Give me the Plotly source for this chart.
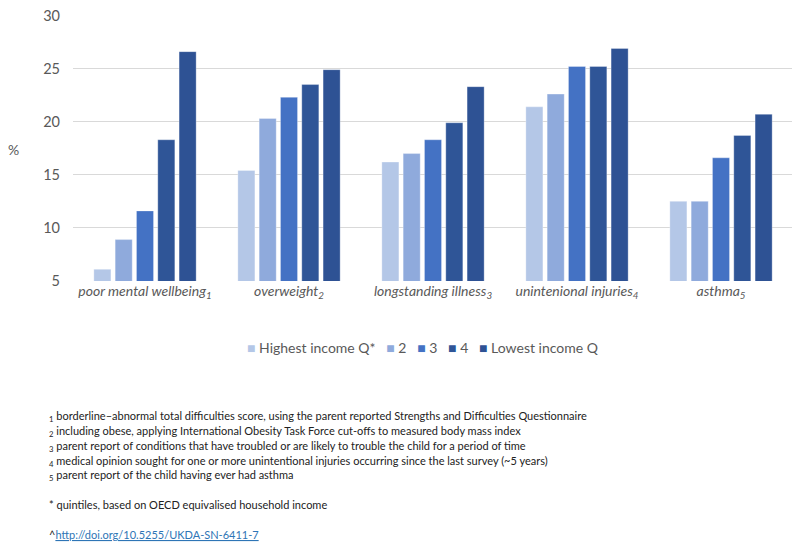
import plotly.graph_objects as go

categories = [
    "poor mental wellbeing<sub>1</sub>",
    "overweight<sub>2</sub>",
    "longstanding illness<sub>3</sub>",
    "unintenional injuries<sub>4</sub>",
    "asthma<sub>5</sub>",
]
series_names = ["Highest income Q*", "2", "3", "4", "Lowest income Q"]
q1 = [6.1, 15.4, 16.2, 21.4, 12.5]
q2 = [8.9, 20.3, 17.0, 22.6, 12.5]
q3 = [11.6, 22.3, 18.3, 25.2, 16.6]
q4 = [18.3, 23.5, 19.9, 25.2, 18.7]
q5 = [26.6, 24.9, 23.3, 26.9, 20.7]
series_values = [q1, q2, q3, q4, q5]
colors = ["#B4C7E7", "#8FAADC", "#4472C4", "#2F5597", "#2E5294"]
y_ticks = [5, 10, 15, 20, 25, 30]

footnotes = [
    "<sub>1</sub> borderline–abnormal total difficulties score, using the parent reported Strengths and Difficulties Questionnaire",
    "<sub>2</sub> including obese, applying International Obesity Task Force cut-offs to measured body mass index",
    "<sub>3</sub> parent report of conditions that have troubled or are likely to trouble the child for a period of time",
    "<sub>4</sub> medical opinion sought for one or more unintentional injuries occurring since the last survey (~5 years)",
    "<sub>5</sub> parent report of the child having ever had asthma",
    "* quintiles, based on OECD equivalised household income",
]
footnote_y = [416, 431.5, 446, 461, 475.5, 504.5]
link_text = "^<span style='color:#2E75B6'><u>http://doi.org/10.5255/UKDA-SN-6411-7</u></span>"

fig = go.Figure()
for name, vals, c in zip(series_names, series_values, colors):
    fig.add_trace(go.Bar(
        x=categories, y=vals, name=name,
        marker=dict(color=c, line=dict(color="rgba(255,255,255,0.6)", width=0.5)),
    ))

# page body has an 8px default margin; figure is offset by it
OX, OY = 8, 8
W, H = 800 - OX, 549 - OY
# plot area in screen pixels: x 73..793, y 15..281
ml, mr, mt, mb = 73 - OX, 800 - 793, 15 - OY, 549 - 281
ph = H - mt - mb
pw = W - ml - mr

def py(pix):
    return (549 - mb - pix) / ph

def px(pix):
    return (pix - 73) / pw

annotations = [
    dict(text="%", x=px(13), y=py(149), xref="paper", yref="paper", showarrow=False,
         xanchor="center", yanchor="middle", font=dict(size=14, color="#595959")),
]
ffont = dict(family="Lato, Noto Sans, sans-serif", size=11, color="#222222")
for t, yy in zip(footnotes, footnote_y):
    annotations.append(dict(text=t, x=px(47), y=py(yy), xref="paper", yref="paper",
                            showarrow=False, xanchor="left", yanchor="middle", font=ffont))
annotations.append(dict(text=link_text, x=px(47), y=py(534.5), xref="paper", yref="paper",
                        showarrow=False, xanchor="left", yanchor="middle", font=ffont))

# custom compact legend
legend_parts = []
for name, c in zip(series_names, colors):
    legend_parts.append(f"<span style='color:{c}'>■</span> {name}")
legend_text = "&nbsp;&nbsp;&nbsp;".join(legend_parts)
annotations.append(dict(text=legend_text, x=px(423), y=py(347), xref="paper", yref="paper",
                        showarrow=False, xanchor="center", yanchor="middle",
                        font=dict(size=14, color="#595959")))

fig.update_layout(
    width=W, height=H,
    margin=dict(l=ml, r=mr, t=mt, b=mb, autoexpand=False),
    paper_bgcolor="white", plot_bgcolor="white",
    barmode="group", bargap=0.26, bargroupgap=0.2,
    font=dict(family="Lato, Noto Sans, sans-serif", color="#595959"),
    showlegend=False,
    annotations=annotations,
    xaxis=dict(tickfont=dict(size=14, color="#595959", style="italic"),
               showline=False, ticks="", showgrid=False, automargin=False),
    yaxis=dict(range=[5, 30.05], tickvals=y_ticks,
               showgrid=True, gridcolor="#D9D9D9", gridwidth=1,
               zeroline=False, automargin=False, ticklabeloverflow="allow",
               tickfont=dict(size=14.5, color="#595959"), ticks="", ticklen=0,
               ticklabelstandoff=12),
)

fig.write_html("out.html")
